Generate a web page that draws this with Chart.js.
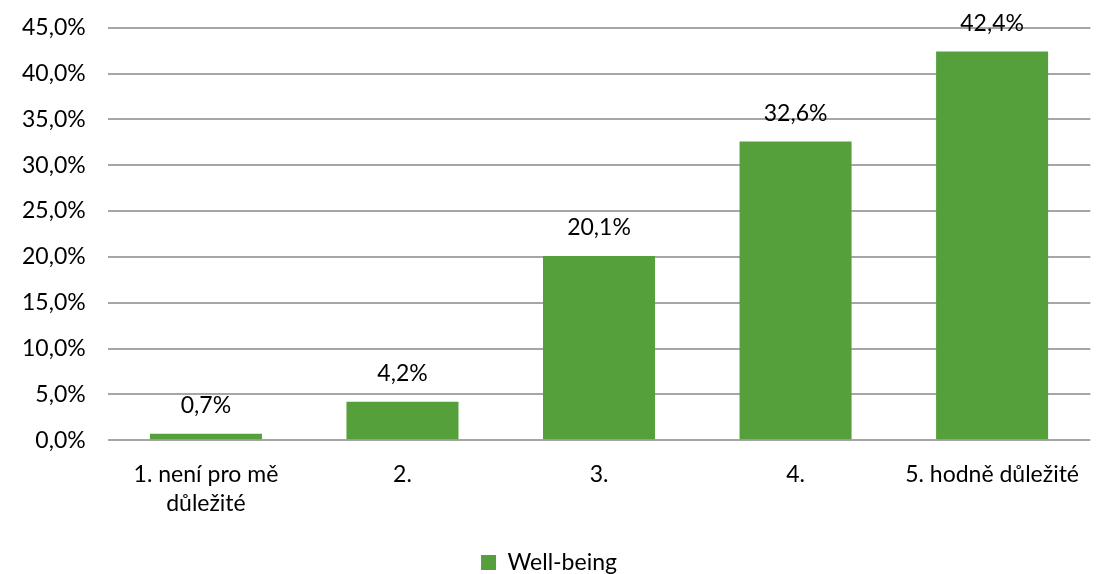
<!DOCTYPE html>
<html>
<head>
<meta charset="utf-8">
<script src="https://cdn.jsdelivr.net/npm/chart.js@4"></script>
<style>
  html, body { margin: 0; padding: 0; background: #fff; }
  #wrap { width: 1098px; height: 574px; }
</style>
</head>
<body>
<div id="wrap"><canvas id="chart"></canvas></div>
<script>
// Data
const categories = [['1. není pro mě', 'důležité'], '2.', '3.', '4.', '5. hodně důležité'];
const values = [0.7, 4.2, 20.1, 32.6, 42.4];
const seriesName = 'Well-being';
const yTicks = { min: 0, max: 45, step: 5 };

const FONT = 'Lato, "Open Sans", sans-serif';
const SIZE = 23;
const fmt = v => v.toFixed(1).replace('.', ',') + '%';

// Draw value labels above each bar
const barLabels = {
  id: 'barLabels',
  afterDatasetsDraw(chart) {
    const ctx = chart.ctx;
    const meta = chart.getDatasetMeta(0);
    ctx.save();
    ctx.font = SIZE + 'px ' + FONT;
    ctx.fillStyle = '#000';
    ctx.textAlign = 'center';
    ctx.textBaseline = 'middle';
    meta.data.forEach((bar, i) => {
      ctx.fillText(fmt(values[i]), bar.x, bar.y - 28);
    });
    ctx.restore();
  }
};

new Chart(document.getElementById('chart'), {
  type: 'bar',
  data: {
    labels: categories,
    datasets: [{
      label: seriesName,
      data: values,
      backgroundColor: '#55A03B',
      barPercentage: 0.57,
      categoryPercentage: 1
    }]
  },
  options: {
    responsive: true,
    maintainAspectRatio: false,
    animation: false,
    layout: { padding: { top: 23, right: 0, left: 0, bottom: -10 } },
    scales: {
      y: {
        min: yTicks.min,
        max: yTicks.max,
        ticks: {
          stepSize: yTicks.step,
          callback: v => fmt(v),
          color: '#000',
          font: { family: FONT, size: SIZE, lineHeight: 0.5 },
          padding: 22
        },
        grid: { color: '#A6A6A6', lineWidth: 2, drawTicks: false },
        border: { display: false }
      },
      x: {
        ticks: {
          color: '#000',
          font: { family: FONT, size: SIZE, lineHeight: 1.3 },
          maxRotation: 0,
          autoSkip: false,
          padding: 19
        },
        grid: { display: false, drawTicks: false },
        border: { display: false },
        afterFit(scale) { scale.height += 13; }
      }
    },
    plugins: {
      legend: {
        position: 'bottom',
        labels: {
          color: '#000',
          font: { family: FONT, size: SIZE },
          boxWidth: 15,
          boxHeight: 15,
          padding: 0
        }
      },
      tooltip: { enabled: false }
    }
  },
  plugins: [barLabels]
});
</script>
</body>
</html>
